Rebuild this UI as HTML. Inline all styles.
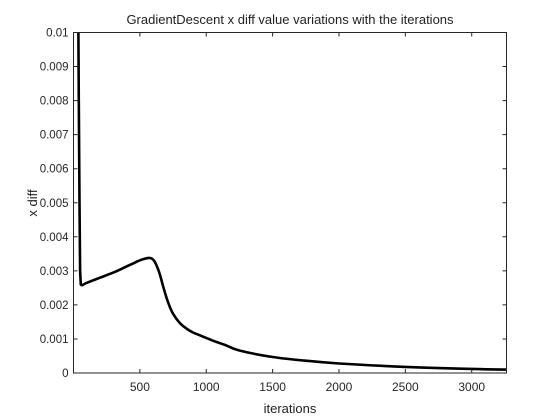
<!DOCTYPE html>
<html><head><meta charset="utf-8"><style>
body{margin:0;background:#fff;}
svg{display:block;font-family:"Liberation Sans",Arial,sans-serif;}
</style></head><body>
<svg width="560" height="420">
<defs><clipPath id="clip"><rect x="73" y="32" width="434" height="341"/></clipPath></defs>
<rect x="0" y="0" width="560" height="420" fill="#fff"/>
<text x="290" y="24" text-anchor="middle" font-size="13" fill="#222">GradientDescent x diff value variations with the iterations</text>
<g id="ticks"></g>
<path id="line" fill="none" stroke="#000" stroke-width="2.6" stroke-linejoin="round" clip-path="url(#clip)"/>
<rect x="73.5" y="32.5" width="433" height="340.5" fill="none" stroke="#262626" stroke-width="1"/>
<text x="290" y="413" text-anchor="middle" font-size="13" fill="#222">iterations</text>
<text transform="translate(37,203) rotate(-90)" text-anchor="middle" font-size="13" fill="#222">x diff</text>
</svg>
<script>
const iterations=[36,40,45,50,55,100,200,300,400,450,500,540,570,590,610,630,650,675,700,725,750,800,850,900,950,1000,1050,1100,1150,1250,1500,1750,2000,2500,3000,3260];
const xdiff=[0.0105,0.008,0.005,0.003,0.0026,0.00265,0.0028,0.00295,0.00313,0.00322,0.00331,0.00336,0.00338,0.00336,0.00328,0.00312,0.0029,0.00255,0.00222,0.00195,0.00174,0.00147,0.00131,0.00119,0.00111,0.00103,0.00095,0.00088,0.00081,0.00066,0.00047,0.00036,0.00028,0.00018,0.00012,0.0001];
const xTicks=[500,1000,1500,2000,2500,3000];
const yTicks=[0,0.001,0.002,0.003,0.004,0.005,0.006,0.007,0.008,0.009,0.01];
const yLabels=["0","0.001","0.002","0.003","0.004","0.005","0.006","0.007","0.008","0.009","0.01"];
const X0=73.5,X1=506.5,Y0=373,Y1=32.5,XMIN=0,XMAX=3262,YMIN=0,YMAX=0.01;
function sx(v){return X0+(v-XMIN)/(XMAX-XMIN)*(X1-X0);}
function sy(v){return Y0-(v-YMIN)/(YMAX-YMIN)*(Y0-Y1);}
const NS="http://www.w3.org/2000/svg";
const g=document.getElementById('ticks');
xTicks.forEach(t=>{
  const x=sx(t);
  const l=document.createElementNS(NS,'path');
  l.setAttribute('d',`M${x},${Y0}v-4M${x},${Y1}v4`);
  l.setAttribute('stroke','#262626');
  
  
  g.appendChild(l);
  const tx=document.createElementNS(NS,'text');
  tx.setAttribute('x',x);tx.setAttribute('y',Y0+18);
  tx.setAttribute('text-anchor','middle');tx.setAttribute('font-size','12');tx.setAttribute('fill','#262626');
  
  
  tx.textContent=t;g.appendChild(tx);
});
yTicks.forEach((t,i)=>{
  const y=sy(t);
  const l=document.createElementNS(NS,'path');
  l.setAttribute('d',`M${X0},${y}h4M${X1},${y}h-4`);
  l.setAttribute('stroke','#262626');
  
  
  g.appendChild(l);
  const tx=document.createElementNS(NS,'text');
  tx.setAttribute('x',X0-5);tx.setAttribute('y',y+4);
  tx.setAttribute('text-anchor','end');tx.setAttribute('font-size','11.5');tx.setAttribute('fill','#262626');
  
  
  tx.textContent=yLabels[i];g.appendChild(tx);
});
const P=iterations.map((v,i)=>[sx(v),sy(xdiff[i])]);
let d='M'+P[0][0].toFixed(1)+','+P[0][1].toFixed(1);
for(let i=0;i<P.length-1;i++){
  const p0=P[Math.max(0,i-1)],p1=P[i],p2=P[i+1],p3=P[Math.min(P.length-1,i+2)];
  const s=i<4?0:1/6;
  const c1=[p1[0]+(p2[0]-p0[0])*s,p1[1]+(p2[1]-p0[1])*s];
  const c2=[p2[0]-(p3[0]-p1[0])*s,p2[1]-(p3[1]-p1[1])*s];
  d+=`C${c1[0].toFixed(1)},${c1[1].toFixed(1)} ${c2[0].toFixed(1)},${c2[1].toFixed(1)} ${p2[0].toFixed(1)},${p2[1].toFixed(1)}`;
}
document.getElementById('line').setAttribute('d',d);
</script>
</body></html>
